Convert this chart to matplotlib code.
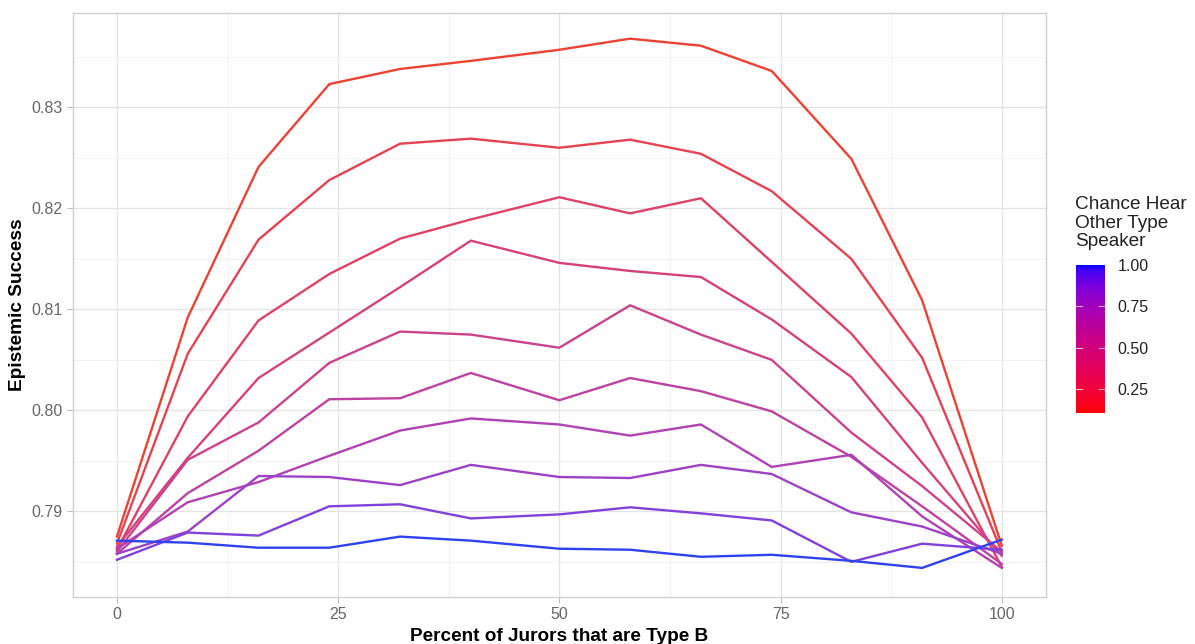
import numpy as np
import matplotlib
matplotlib.use('Agg')
import matplotlib.pyplot as plt
from matplotlib.colors import ListedColormap
from matplotlib.ticker import MultipleLocator

plt.rcParams['font.family'] = ['Liberation Sans', 'DejaVu Sans']

# data
pct_b = [0, 8, 16, 24, 32, 40, 50, 58, 66, 74, 83, 91, 100]
chance = [0.1, 0.2, 0.3, 0.4, 0.5, 0.6, 0.7, 0.8, 0.9, 1.0]
s01 = [0.7875, 0.8092, 0.8241, 0.8323, 0.8338, 0.8346, 0.8357, 0.8368, 0.8361, 0.8336, 0.8249, 0.8109, 0.7866]
s02 = [0.7868, 0.8056, 0.8169, 0.8228, 0.8264, 0.8269, 0.8260, 0.8268, 0.8254, 0.8217, 0.8150, 0.8052, 0.7860]
s03 = [0.7862, 0.7994, 0.8089, 0.8135, 0.8170, 0.8189, 0.8211, 0.8195, 0.8210, 0.8147, 0.8076, 0.7993, 0.7845]
s04 = [0.7865, 0.7953, 0.8032, 0.8077, 0.8122, 0.8168, 0.8146, 0.8138, 0.8132, 0.8090, 0.8033, 0.7948, 0.7856]
s05 = [0.7860, 0.7951, 0.7988, 0.8047, 0.8078, 0.8075, 0.8062, 0.8104, 0.8075, 0.8050, 0.7978, 0.7925, 0.7860]
s06 = [0.7858, 0.7918, 0.7960, 0.8011, 0.8012, 0.8037, 0.8010, 0.8032, 0.8019, 0.7999, 0.7954, 0.7905, 0.7848]
s07 = [0.7863, 0.7909, 0.7929, 0.7955, 0.7980, 0.7992, 0.7986, 0.7975, 0.7986, 0.7944, 0.7956, 0.7895, 0.7844]
s08 = [0.7858, 0.7880, 0.7935, 0.7934, 0.7926, 0.7946, 0.7934, 0.7933, 0.7946, 0.7937, 0.7899, 0.7885, 0.7858]
s09 = [0.7852, 0.7879, 0.7876, 0.7905, 0.7907, 0.7893, 0.7897, 0.7904, 0.7898, 0.7891, 0.7850, 0.7868, 0.7862]
s10 = [0.7871, 0.7869, 0.7864, 0.7864, 0.7875, 0.7871, 0.7863, 0.7862, 0.7855, 0.7857, 0.7851, 0.7844, 0.7872]
series = [s01, s02, s03, s04, s05, s06, s07, s08, s09, s10]


# red -> blue gradient interpolated in CIELAB like ggplot
def srgb_to_lab(rgb):
    c = np.asarray(rgb, float)
    c = np.where(c <= 0.04045, c / 12.92, ((c + 0.055) / 1.055) ** 2.4)
    M = np.array([[0.4124, 0.3576, 0.1805], [0.2126, 0.7152, 0.0722], [0.0193, 0.1192, 0.9505]])
    xyz = M @ c / np.array([0.95047, 1.0, 1.08883])
    f = np.where(xyz > 0.008856, np.cbrt(xyz), 7.787 * xyz + 16 / 116)
    return np.array([116 * f[1] - 16, 500 * (f[0] - f[1]), 200 * (f[1] - f[2])])


def lab_to_srgb(lab):
    L, a, b = lab
    fy = (L + 16) / 116
    fx = fy + a / 500
    fz = fy - b / 200
    f = np.array([fx, fy, fz])
    xyz = np.where(f ** 3 > 0.008856, f ** 3, (f - 16 / 116) / 7.787) * np.array([0.95047, 1.0, 1.08883])
    Minv = np.array([[3.2406, -1.5372, -0.4986], [-0.9689, 1.8758, 0.0415], [0.0557, -0.2040, 1.0570]])
    c = Minv @ xyz
    c = np.where(c <= 0.0031308, 12.92 * c, 1.055 * np.clip(c, 0, None) ** (1 / 2.4) - 0.055)
    return np.clip(c, 0, 1)


lab_lo = srgb_to_lab([1, 0, 0])
lab_hi = srgb_to_lab([0, 0, 1])
ramp = [lab_to_srgb(lab_lo + t * (lab_hi - lab_lo)) for t in np.linspace(0, 1, 256)]
cmap = ListedColormap(ramp)
# lines in the reference look lighter / softer than the legend bar
line_ramp = [0.74 * np.array(r) + 0.26 * np.array([0.72, 1.0, 0.75]) for r in ramp]
line_cmap = ListedColormap(line_ramp)
vmin, vmax = min(chance), max(chance)

fig = plt.figure(figsize=(11.95, 6.44), dpi=100)
ax = fig.add_axes([72.7 / 1195, 1 - 596.7 / 644, (1046 - 72.7) / 1195, (596.7 - 12.7) / 644])

for c, ys in zip(chance, series):
    ax.plot(pct_b, ys, color=line_cmap((c - vmin) / (vmax - vmin)), lw=1.7, solid_joinstyle='miter')

ax.set_xlim(-5, 105)
ax.set_ylim(0.78155, 0.83937)
ax.xaxis.set_minor_locator(MultipleLocator(12.5))
ax.yaxis.set_minor_locator(MultipleLocator(0.005))
ax.set_yticks([0.79, 0.80, 0.81, 0.82, 0.83])
ax.set_yticklabels(['0.79', '0.80', '0.81', '0.82', '0.83'])
ax.set_xticks([0, 25, 50, 75, 100])
ax.set_xticklabels(['0', '25', '50', '75', '100'])
ax.grid(which='major', color='#E4E4E4', lw=0.9)
ax.grid(which='minor', color='#F0F0F0', lw=0.6)
ax.set_axisbelow(True)
for sp in ax.spines.values():
    sp.set_color('#D0D0D0')
    sp.set_linewidth(1.0)
ax.tick_params(which='major', length=4.5, width=0.8, color='#BBBBBB', labelsize=11.5,
               labelcolor='#666666', pad=3)
ax.tick_params(which='minor', length=0)

fig.text(559.4 / 1195, 1 - 641 / 644, 'Percent of Jurors that are Type B', ha='center',
         va='baseline', fontsize=13.7, fontweight='bold')
fig.text(18 / 1195, 1 - 304.7 / 644, 'Epistemic Success', rotation=90, ha='center',
         va='center', fontsize=13.7, fontweight='bold')

# colourbar legend
cax = fig.add_axes([1076 / 1195, 1 - 413.3 / 644, 29 / 1195, 148 / 644])
grad = np.linspace(vmin, vmax, 300).reshape(-1, 1)
cax.imshow(grad, aspect='auto', cmap=cmap, origin='lower', extent=[0, 1, vmin, vmax],
           vmin=vmin, vmax=vmax)
cax.set_xlim(0, 1)
cax.set_ylim(vmin, vmax)
cax.set_xticks([])
cbar_ticks = [0.25, 0.50, 0.75, 1.00]
cax.set_yticks(cbar_ticks)
cax.set_yticklabels(['%.2f' % t for t in cbar_ticks])
cax.yaxis.tick_right()
cax.tick_params(axis='y', length=0, labelsize=11.5, labelcolor='#222222', pad=9)
for t in cbar_ticks[:-1]:
    cax.plot([0, 0.2], [t, t], color='white', lw=0.8, alpha=0.7)
    cax.plot([0.8, 1], [t, t], color='white', lw=0.8, alpha=0.7)
for sp in cax.spines.values():
    sp.set_visible(False)

fig.text(1075 / 1195, 1 - 196 / 644, 'Chance Hear\nOther Type\nSpeaker', ha='left', va='top',
         fontsize=13.7, linespacing=1.12, color='#222222')

fig.savefig('out.png', dpi=100)
